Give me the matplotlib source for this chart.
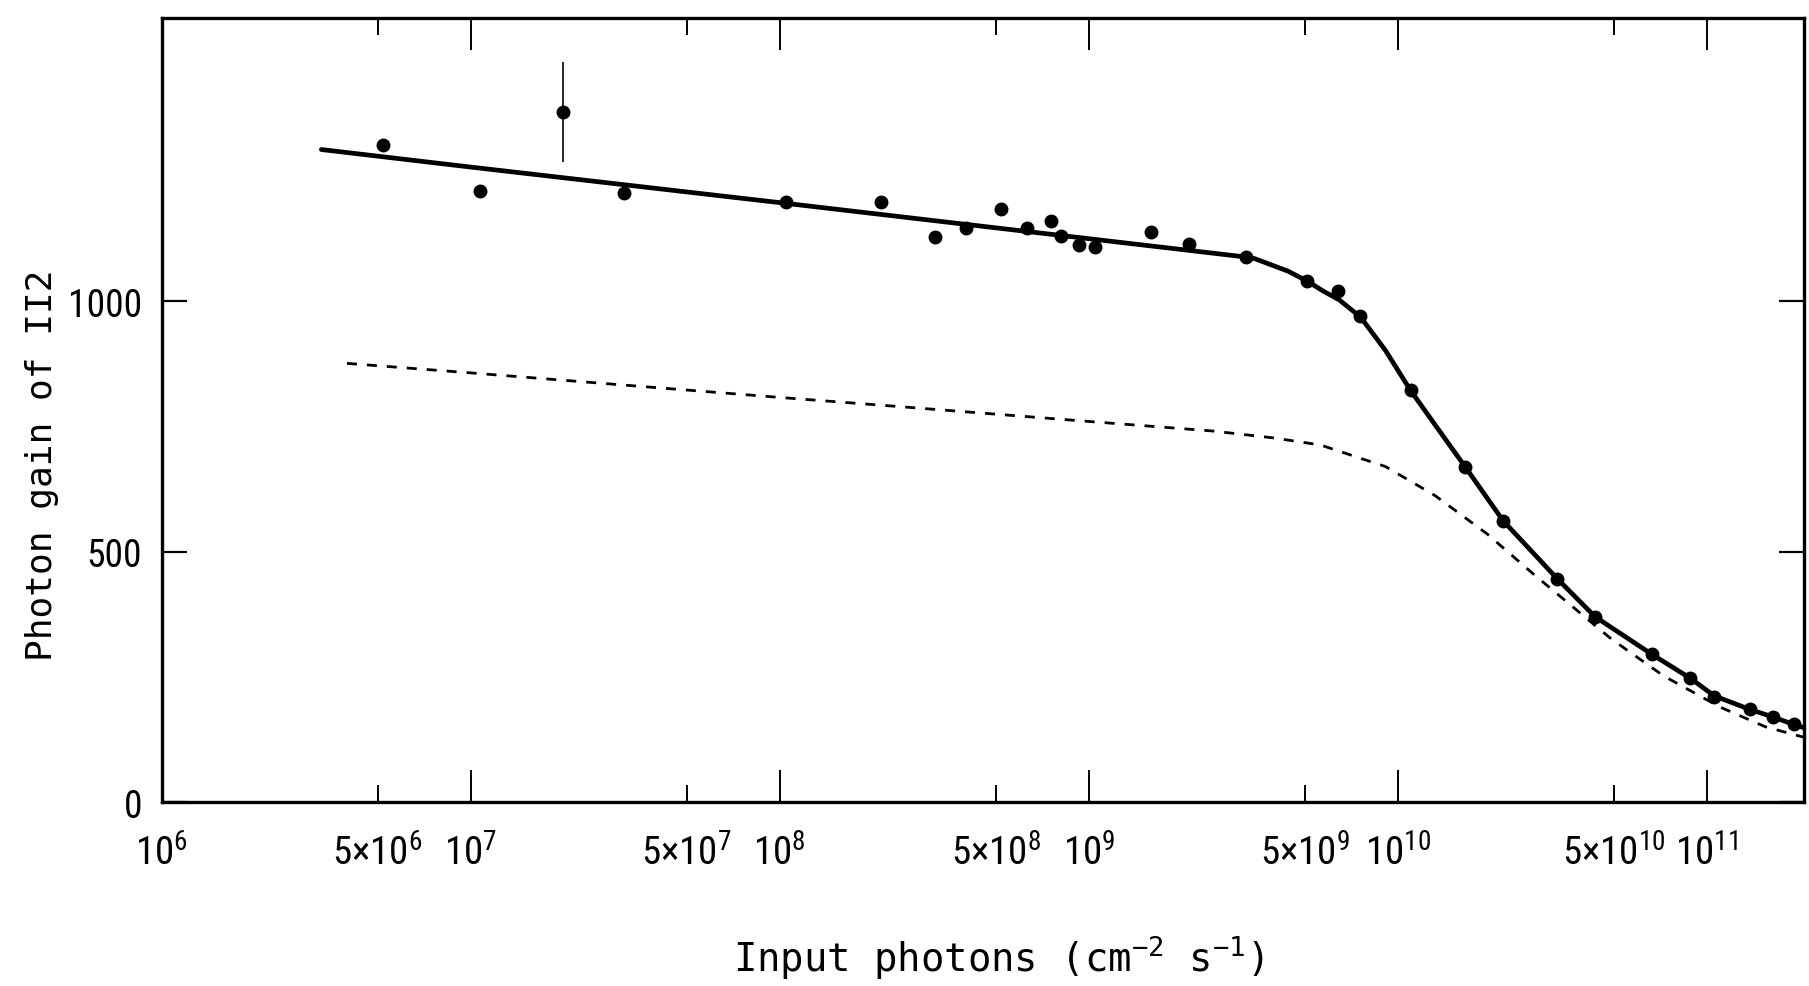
import matplotlib
matplotlib.use("Agg")
import matplotlib.pyplot as plt
from matplotlib import font_manager
from matplotlib.ticker import FixedLocator, FixedFormatter

# --------------------------------
# DATA
# --------------------------------

# measured points: input photons (cm^-2 s^-1) and photon gain
photons = [5.19e6, 1.07e7, 1.99e7, 3.14e7, 1.05e8, 2.13e8, 3.17e8, 4.01e8,
           5.19e8, 6.31e8, 7.53e8, 8.13e8, 9.29e8, 1.05e9, 1.59e9, 2.11e9,
           3.24e9, 5.1e9, 6.41e9, 7.55e9, 1.10e10, 1.65e10, 2.19e10, 3.28e10,
           4.35e10, 6.64e10, 8.85e10, 1.057e11, 1.377e11, 1.633e11, 1.91e11]
gain = [1313, 1221, 1378, 1217, 1198, 1198, 1129, 1146,
        1185, 1146, 1160, 1130, 1113, 1109, 1138, 1115,
        1089, 1040, 1021, 970, 822, 670, 562, 446,
        370, 295, 247, 210, 185, 170, 155]
gain_err = [0, 0, 99, 0, 0, 0, 0, 0,
            0, 0, 0, 0, 0, 0, 0, 0,
            0, 0, 0, 0, 0, 0, 0, 0,
            0, 0, 0, 0, 0, 0, 0]

# solid fitted curve
fit_photons = [3.29e6, 1e7, 1e8, 1e9, 3.16e9, 3.45e9, 4.42e9, 5.1e9, 5.75e9,
               6.46e9, 7.59e9, 9.12e9, 1.10e10, 1.35e10, 1.65e10, 2.19e10,
               3.28e10, 4.35e10, 6.64e10, 8.85e10, 1.057e11, 1.377e11,
               1.633e11, 1.91e11, 2.07e11]
fit_gain = [1303, 1268, 1197, 1125, 1089, 1085, 1060, 1040, 1020,
            1003, 968, 902, 822, 745, 670, 562,
            446, 370, 295, 247, 212, 185,
            170, 155, 148]

# dashed curve
dash_photons = [3.98e6, 1e7, 1e8, 2.4e8, 1e9, 2.51e9, 3.98e9, 5.62e9, 9.12e9,
                1.32e10, 1.95e10, 2.75e10, 3.55e10, 4.9e10, 7.24e10, 1.10e11,
                1.55e11, 2.07e11]
dash_gain = [876, 857, 808, 790, 760, 741, 727, 713, 670,
             612, 535, 455, 398, 326, 252, 190,
             150, 129]

# tick positions and labels
major_ticks = [1e6, 1e7, 1e8, 1e9, 1e10, 1e11]
major_labels = ["$10^{6}$", "$10^{7}$", "$10^{8}$", "$10^{9}$",
                "$10^{10}$", "$10^{11}$"]
minor_ticks = [5e6, 5e7, 5e8, 5e9, 5e10]
minor_labels = ["5×$10^{6}$", "5×$10^{7}$", "5×$10^{8}$", "5×$10^{9}$",
                "5×$10^{10}$"]
y_ticks = [0, 500, 1000]

# --------------------------------
# FONTS (pick a narrow face for the numbers if one is installed)
# --------------------------------

fonts = font_manager.fontManager.ttflist
names = {f.name for f in fonts}

tick_family = 'DejaVu Sans'
tick_stretch = 'normal'
x_size, y_size = 21, 22
for cand in ['Liberation Sans Narrow', 'Roboto Condensed',
             'Noto Sans Condensed', 'Open Sans Condensed']:
    if cand in names:
        tick_family = cand
        x_size, y_size = 28, 27
        break
else:
    if any(f.name == 'DejaVu Sans' and f.stretch == 'condensed' for f in fonts):
        tick_stretch = 'condensed'
        x_size, y_size = 25, 25

plt.rcParams['font.family'] = [tick_family, 'DejaVu Sans']
plt.rcParams['font.stretch'] = tick_stretch
plt.rcParams['mathtext.default'] = 'regular'
label_font = ['DejaVu Sans Mono', 'DejaVu Sans']

# --------------------------------
# CREATE FIGURE
# --------------------------------

fig = plt.figure(figsize=(18.09, 9.87), dpi=100)
ax = fig.add_axes([0.0893, 0.1864, 0.9082, 0.7940])

ax.plot(fit_photons, fit_gain, color='black', lw=3.4, solid_capstyle='round',
        solid_joinstyle='round')
dashed, = ax.plot(dash_photons, dash_gain, color='black', lw=2.0)
dashed.set_dashes((3.6, 3.6))

ax.errorbar(photons, gain, yerr=gain_err, fmt='o', color='black',
            ms=9, elinewidth=1.2, capsize=0)

# --------------------------------
# AXES
# --------------------------------

ax.set_xscale('log')
ax.set_xlim(1e6, 2.07e11)
ax.set_ylim(0, 1565)

ax.xaxis.set_major_locator(FixedLocator(major_ticks))
ax.xaxis.set_major_formatter(FixedFormatter(major_labels))
ax.xaxis.set_minor_locator(FixedLocator(minor_ticks))
ax.xaxis.set_minor_formatter(FixedFormatter(minor_labels))
ax.set_yticks(y_ticks)

ax.tick_params(axis='x', which='major', direction='in', length=23, width=1.4,
               top=True, labelsize=x_size, pad=23)
ax.tick_params(axis='x', which='minor', direction='in', length=12, width=1.4,
               top=True, labelsize=x_size, pad=23)
ax.tick_params(axis='y', direction='in', length=18, width=1.6,
               right=True, labelsize=y_size, pad=14)

for spine in ax.spines.values():
    spine.set_linewidth(2.4)

ax.set_xlabel("Input photons (cm$^{-2}$ s$^{-1}$)", family=label_font,
              stretch='normal', fontsize=28, va='center')
ax.xaxis.set_label_coords(0.509, -0.197)
ax.set_ylabel("Photon gain of II2", family=label_font, stretch='normal',
              fontsize=26, va='center')
ax.yaxis.set_label_coords(-0.073, 0.431)

# --------------------------------
# SAVE
# --------------------------------

fig.savefig("out.png", dpi=100)
